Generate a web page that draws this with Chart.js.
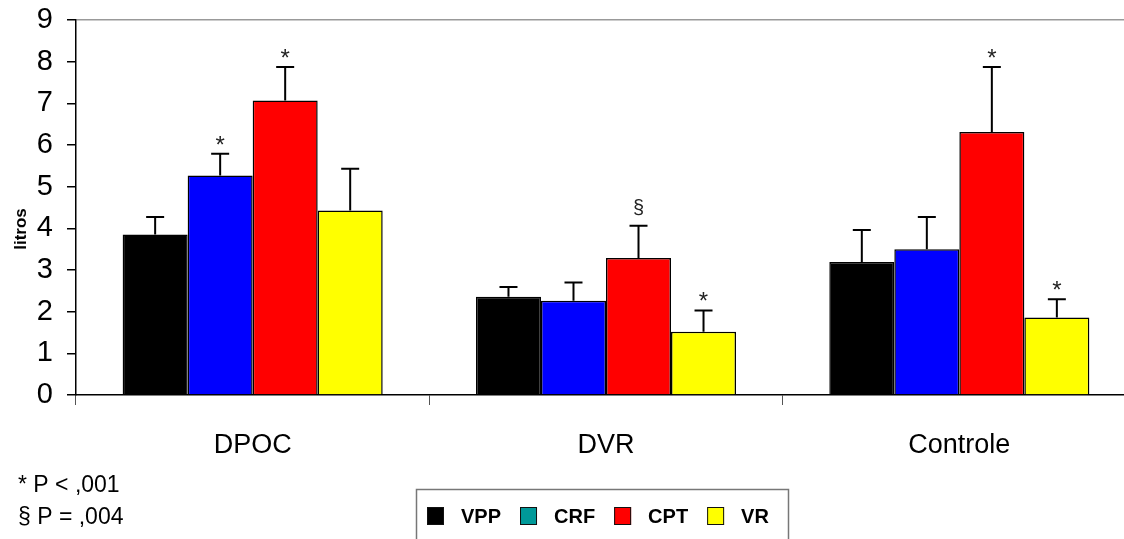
<!DOCTYPE html>
<html>
<head>
<meta charset="utf-8">
<script src="https://cdn.jsdelivr.net/npm/chart.js@4/dist/chart.umd.min.js"></script>
<style>
  body { margin: 0; background: #fff; overflow: hidden; }
  #grafico { display: block; }
</style>
</head>
<body>
<canvas id="grafico" width="1140" height="539"></canvas>
<script>
// grupos e medidas (litros)
const grupos = ['DPOC', 'DVR', 'Controle'];
const VPP = [3.85, 2.36, 3.19];
const CRF = [5.27, 2.26, 3.50];
const CPT = [7.07, 3.29, 6.31];
const VR  = [4.43, 1.52, 1.86];

// desvio (barra de erro, só para cima)
const VPP_dp = [0.42, 0.23, 0.77];
const CRF_dp = [0.52, 0.44, 0.77];
const CPT_dp = [0.80, 0.77, 1.56];
const VR_dp  = [1.00, 0.51, 0.44];

// marcas de significância
const VPP_sig = ['', '', ''];
const CRF_sig = ['*', '', ''];
const CPT_sig = ['*', '§', '*'];
const VR_sig  = ['', '*', '*'];

const yTicks = [0, 1, 2, 3, 4, 5, 6, 7, 8, 9];
const notas = ['* P < ,001', '§ P = ,004'];

Chart.defaults.font.family = '"Liberation Sans", Arial, sans-serif';
Chart.defaults.color = '#000';

const erros = {
  id: 'erros',
  afterDatasetsDraw(chart) {
    const ctx = chart.ctx;
    const y = chart.scales.y;
    chart.data.datasets.forEach((ds, i) => {
      const meta = chart.getDatasetMeta(i);
      meta.data.forEach((bar, j) => {
        const topo = y.getPixelForValue(ds.data[j] + ds.dp[j]);
        ctx.save();
        ctx.strokeStyle = '#000';
        ctx.lineWidth = 2;
        ctx.beginPath();
        ctx.moveTo(bar.x, bar.y);
        ctx.lineTo(bar.x, topo);
        ctx.moveTo(bar.x - 9, topo);
        ctx.lineTo(bar.x + 9, topo);
        ctx.stroke();
        const s = ds.sig[j];
        if (s) {
          ctx.fillStyle = '#222';
          ctx.textAlign = 'center';
          ctx.textBaseline = 'alphabetic';
          if (s === '*') {
            ctx.font = '24px "Liberation Sans", Arial, sans-serif';
            ctx.fillText(s, bar.x, topo - 1);
          } else {
            ctx.font = '20px "Liberation Sans", Arial, sans-serif';
            ctx.fillText(s, bar.x, topo - 12);
          }
        }
        ctx.restore();
      });
    });
  }
};

const extras = {
  id: 'extras',
  afterDraw(chart) {
    const ctx = chart.ctx;
    ctx.save();
    // titulo do eixo y
    ctx.translate(21, 229);
    ctx.rotate(-Math.PI / 2);
    ctx.font = 'bold 17px "Liberation Sans", Arial, sans-serif';
    ctx.textAlign = 'center';
    ctx.textBaseline = 'middle';
    ctx.fillStyle = '#000';
    ctx.fillText('litros', 0, 0);
    ctx.restore();

    // notas de rodapé
    ctx.save();
    ctx.font = '23px "Liberation Sans", Arial, sans-serif';
    ctx.fillStyle = '#000';
    ctx.textBaseline = 'middle';
    ctx.fillText(notas[0], 18, 486);
    ctx.fillText(notas[1], 18, 518);
    ctx.restore();

    // legenda
    const cores = ['#000000', '#009999', '#ff0000', '#ffff00'];
    ctx.save();
    ctx.strokeStyle = '#777';
    ctx.lineWidth = 1.5;
    ctx.strokeRect(416.5, 489.5, 372, 70);
    ctx.font = 'bold 20px "Liberation Sans", Arial, sans-serif';
    ctx.textBaseline = 'middle';
    let x = 427;
    chart.data.datasets.forEach((ds, i) => {
      ctx.fillStyle = cores[i];
      ctx.fillRect(x, 507, 17, 18);
      ctx.strokeStyle = '#111';
      ctx.lineWidth = 1;
      ctx.strokeRect(x + 0.5, 507.5, 16, 17);
      x += 34;
      ctx.fillStyle = '#000';
      ctx.fillText(ds.label, x, 517);
      x += ctx.measureText(ds.label).width + 19;
    });
    ctx.restore();
  }
};

new Chart(document.getElementById('grafico'), {
  type: 'bar',
  data: {
    labels: grupos,
    datasets: [
      { label: 'VPP', data: VPP, dp: VPP_dp, sig: VPP_sig, backgroundColor: '#000000' },
      { label: 'CRF', data: CRF, dp: CRF_dp, sig: CRF_sig, backgroundColor: '#0000ff' },
      { label: 'CPT', data: CPT, dp: CPT_dp, sig: CPT_sig, backgroundColor: '#ff0000' },
      { label: 'VR',  data: VR,  dp: VR_dp,  sig: VR_sig,  backgroundColor: '#ffff00' }
    ].map(d => Object.assign(d, { borderColor: '#000', borderWidth: 1.5, categoryPercentage: 0.736, barPercentage: 1.0 }))
  },
  options: {
    responsive: false,
    animation: false,
    layout: { padding: { top: 20, right: 4, left: 0, bottom: 0 } },
    plugins: { legend: { display: false }, tooltip: { enabled: false } },
    scales: {
      x: {
        afterFit(s) { s.height = 144; },
        grid: { display: true, drawOnChartArea: false, tickLength: 10, color: '#555' },
        border: { color: '#000', width: 1.5 },
        ticks: { font: { size: 27 }, padding: 24, color: '#000' }
      },
      y: {
        min: 0,
        max: 9,
        afterFit(s) { s.width = 76; s.paddingTop = 10; s.paddingBottom = 0; },
        afterBuildTicks(s) { s.ticks = yTicks.map(v => ({ value: v })); },
        grid: {
          drawOnChartArea: true,
          color: c => (c.tick && c.tick.value === 9 ? '#999' : 'rgba(0,0,0,0)'),
          tickColor: '#000',
          tickLength: 9,
          lineWidth: 1.5
        },
        border: { color: '#000', width: 1.5 },
        ticks: { font: { size: 29 }, padding: 14, color: '#000' }
      }
    }
  },
  plugins: [erros, extras]
});
</script>
</body>
</html>
